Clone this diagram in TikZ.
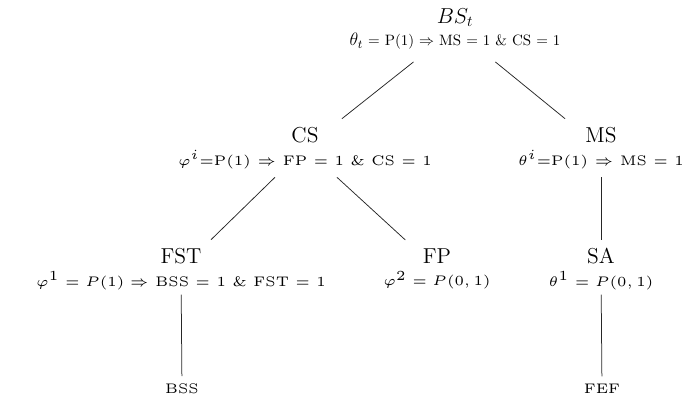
\documentclass[tikz,border=0pt]{standalone}
\usepackage{amssymb}
\usepackage{graphicx}
\tikzset{
  tnode/.style={align=center, inner sep=3.3pt, outer sep=2.5pt, font=\normalsize},
  leaf/.style={inner sep=5pt, font=\normalsize},
  conn/.style={draw=black!85, line width=0.5pt}
}
\newcommand{\ttl}[1]{{\Large #1}\\[3pt]}
\newcommand{\sub}[1]{\scalebox{1.85}{\tiny #1}}
\begin{document}
\begin{tikzpicture}[x=0.6667pt, y=-0.6667pt]
\useasboundingbox (0,0) rectangle (693,407);
\node[tnode, outer sep=5pt] (bs)  at (455,29)  {\ttl{$BS_t$}{\large$\theta_t$} = P(1) $\Rightarrow$ MS = 1 \& CS = 1};
\node[tnode] (cs)  at (305,148) {\ttl{CS}\sub{$\varphi^i$=P(1) $\Rightarrow$ FP = 1 \& CS = 1}};
\node[tnode] (ms)  at (601,148) {\ttl{MS}\sub{$\theta^i$=P(1) $\Rightarrow$ MS = 1}};
\node[tnode] (fst) at (181,269) {\ttl{FST}\sub{$\varphi^1 = P(1) \Rightarrow$ BSS = 1 \& FST = 1}};
\node[tnode] (fp)  at (437,269) {\ttl{FP}\sub{$\varphi^2 = P(0,1)$}};
\node[tnode] (sa)  at (601,269) {\ttl{SA}\sub{$\theta^1 = P(0,1)$}};
\node[leaf] (bss) at (182,389) {\sub{BSS}};
\node[leaf] (fef) at (602,389) {\sub{FEF}};
\draw[conn] (bs) -- (cs);
\draw[conn] (bs) -- (ms);
\draw[conn] (cs) -- (fst);
\draw[conn] (cs) -- (fp);
\draw[conn] (ms) -- (sa);
\draw[conn, shorten <=-2.5pt] (fst) -- (bss);
\draw[conn, shorten <=-2.5pt] (sa) -- (fef);
\end{tikzpicture}
\end{document}
